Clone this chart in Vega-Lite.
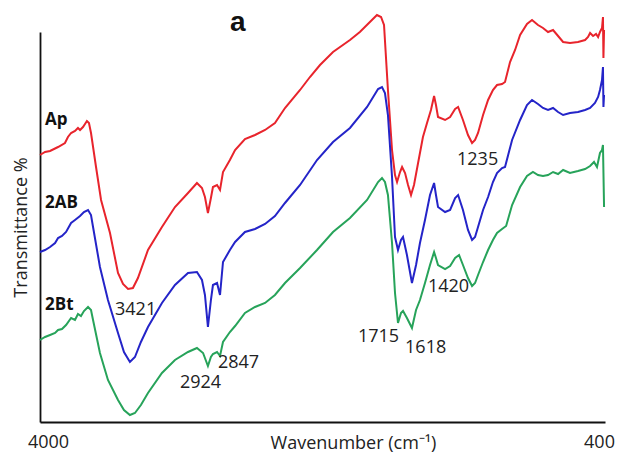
{
  "$schema": "https://vega.github.io/schema/vega-lite/v6.json",
  "width": 565,
  "height": 390,
  "autosize": {"type": "none"},
  "padding": {"left": 40, "top": 32, "right": 14, "bottom": 40},
  "background": "white",
  "config": {"view": {"stroke": null}, "axis": {"grid": false, "ticks": false, "domainColor": "#111", "domainWidth": 1.8, "labelColor": "#222", "titleColor": "#222", "labelFont": "Open Sans", "titleFont": "Open Sans", "titleFontWeight": "normal"}},
  "datasets": {
    "spectra": [
      {"series":"Ap","wn":4000,"T":267},{"series":"Ap","wn":3968,"T":270},{"series":"Ap","wn":3936,"T":271},{"series":"Ap","wn":3885,"T":275},{"series":"Ap","wn":3841,"T":279},{"series":"Ap","wn":3822,"T":285},{"series":"Ap","wn":3802,"T":289},{"series":"Ap","wn":3777,"T":291},{"series":"Ap","wn":3758,"T":294},{"series":"Ap","wn":3745,"T":292},{"series":"Ap","wn":3726,"T":295},{"series":"Ap","wn":3701,"T":301},{"series":"Ap","wn":3688,"T":299},{"series":"Ap","wn":3675,"T":289},{"series":"Ap","wn":3643,"T":255},{"series":"Ap","wn":3611,"T":222},{"series":"Ap","wn":3554,"T":189},{"series":"Ap","wn":3503,"T":149},{"series":"Ap","wn":3471,"T":138},{"series":"Ap","wn":3439,"T":133},{"series":"Ap","wn":3408,"T":134},{"series":"Ap","wn":3376,"T":144},{"series":"Ap","wn":3312,"T":172},{"series":"Ap","wn":3223,"T":195},{"series":"Ap","wn":3140,"T":215},{"series":"Ap","wn":3057,"T":229},{"series":"Ap","wn":3000,"T":239},{"series":"Ap","wn":2968,"T":234},{"series":"Ap","wn":2949,"T":225},{"series":"Ap","wn":2930,"T":209},{"series":"Ap","wn":2911,"T":224},{"series":"Ap","wn":2898,"T":235},{"series":"Ap","wn":2872,"T":237},{"series":"Ap","wn":2853,"T":232},{"series":"Ap","wn":2834,"T":250},{"series":"Ap","wn":2790,"T":262},{"series":"Ap","wn":2757,"T":272},{"series":"Ap","wn":2694,"T":283},{"series":"Ap","wn":2630,"T":287},{"series":"Ap","wn":2566,"T":292},{"series":"Ap","wn":2503,"T":299},{"series":"Ap","wn":2439,"T":314},{"series":"Ap","wn":2343,"T":332},{"series":"Ap","wn":2280,"T":345},{"series":"Ap","wn":2216,"T":357},{"series":"Ap","wn":2133,"T":370},{"series":"Ap","wn":2025,"T":382},{"series":"Ap","wn":1962,"T":390},{"series":"Ap","wn":1898,"T":400},{"series":"Ap","wn":1853,"T":407},{"series":"Ap","wn":1827,"T":405},{"series":"Ap","wn":1808,"T":397},{"series":"Ap","wn":1783,"T":332},{"series":"Ap","wn":1757,"T":272},{"series":"Ap","wn":1738,"T":247},{"series":"Ap","wn":1725,"T":240},{"series":"Ap","wn":1706,"T":250},{"series":"Ap","wn":1693,"T":255},{"series":"Ap","wn":1674,"T":249},{"series":"Ap","wn":1655,"T":237},{"series":"Ap","wn":1636,"T":227},{"series":"Ap","wn":1617,"T":237},{"series":"Ap","wn":1591,"T":259},{"series":"Ap","wn":1560,"T":285},{"series":"Ap","wn":1534,"T":299},{"series":"Ap","wn":1509,"T":312},{"series":"Ap","wn":1489,"T":326},{"series":"Ap","wn":1477,"T":317},{"series":"Ap","wn":1464,"T":305},{"series":"Ap","wn":1419,"T":302},{"series":"Ap","wn":1387,"T":305},{"series":"Ap","wn":1355,"T":313},{"series":"Ap","wn":1336,"T":315},{"series":"Ap","wn":1305,"T":302},{"series":"Ap","wn":1273,"T":287},{"series":"Ap","wn":1247,"T":279},{"series":"Ap","wn":1228,"T":282},{"series":"Ap","wn":1209,"T":289},{"series":"Ap","wn":1177,"T":307},{"series":"Ap","wn":1145,"T":322},{"series":"Ap","wn":1114,"T":332},{"series":"Ap","wn":1088,"T":337},{"series":"Ap","wn":1056,"T":338},{"series":"Ap","wn":1037,"T":340},{"series":"Ap","wn":1005,"T":360},{"series":"Ap","wn":973,"T":372},{"series":"Ap","wn":941,"T":387},{"series":"Ap","wn":897,"T":398},{"series":"Ap","wn":865,"T":402},{"series":"Ap","wn":827,"T":397},{"series":"Ap","wn":795,"T":394},{"series":"Ap","wn":763,"T":390},{"series":"Ap","wn":731,"T":392},{"series":"Ap","wn":699,"T":386},{"series":"Ap","wn":667,"T":380},{"series":"Ap","wn":623,"T":379},{"series":"Ap","wn":572,"T":380},{"series":"Ap","wn":527,"T":382},{"series":"Ap","wn":508,"T":385},{"series":"Ap","wn":495,"T":389},{"series":"Ap","wn":476,"T":386},{"series":"Ap","wn":457,"T":388},{"series":"Ap","wn":444,"T":385},{"series":"Ap","wn":432,"T":390},{"series":"Ap","wn":419,"T":394},{"series":"Ap","wn":413,"T":405},{"series":"Ap","wn":410,"T":364},{"series":"Ap","wn":406,"T":392},

      {"series":"2AB","wn":4000,"T":170},{"series":"2AB","wn":3968,"T":172},{"series":"2AB","wn":3936,"T":175},{"series":"2AB","wn":3904,"T":179},{"series":"2AB","wn":3885,"T":184},{"series":"2AB","wn":3860,"T":186},{"series":"2AB","wn":3834,"T":190},{"series":"2AB","wn":3802,"T":199},{"series":"2AB","wn":3777,"T":202},{"series":"2AB","wn":3745,"T":206},{"series":"2AB","wn":3720,"T":210},{"series":"2AB","wn":3694,"T":212},{"series":"2AB","wn":3675,"T":207},{"series":"2AB","wn":3662,"T":195},{"series":"2AB","wn":3618,"T":155},{"series":"2AB","wn":3567,"T":122},{"series":"2AB","wn":3503,"T":89},{"series":"2AB","wn":3465,"T":70},{"series":"2AB","wn":3427,"T":60},{"series":"2AB","wn":3395,"T":65},{"series":"2AB","wn":3357,"T":80},{"series":"2AB","wn":3312,"T":95},{"series":"2AB","wn":3223,"T":119},{"series":"2AB","wn":3140,"T":137},{"series":"2AB","wn":3057,"T":149},{"series":"2AB","wn":3000,"T":150},{"series":"2AB","wn":2968,"T":142},{"series":"2AB","wn":2949,"T":127},{"series":"2AB","wn":2930,"T":95},{"series":"2AB","wn":2911,"T":122},{"series":"2AB","wn":2898,"T":137},{"series":"2AB","wn":2872,"T":139},{"series":"2AB","wn":2853,"T":127},{"series":"2AB","wn":2834,"T":160},{"series":"2AB","wn":2790,"T":172},{"series":"2AB","wn":2757,"T":180},{"series":"2AB","wn":2694,"T":190},{"series":"2AB","wn":2630,"T":193},{"series":"2AB","wn":2566,"T":198},{"series":"2AB","wn":2503,"T":206},{"series":"2AB","wn":2439,"T":219},{"series":"2AB","wn":2343,"T":237},{"series":"2AB","wn":2235,"T":262},{"series":"2AB","wn":2133,"T":280},{"series":"2AB","wn":2025,"T":294},{"series":"2AB","wn":1916,"T":315},{"series":"2AB","wn":1846,"T":333},{"series":"2AB","wn":1821,"T":335},{"series":"2AB","wn":1802,"T":329},{"series":"2AB","wn":1783,"T":307},{"series":"2AB","wn":1757,"T":245},{"series":"2AB","wn":1738,"T":185},{"series":"2AB","wn":1719,"T":172},{"series":"2AB","wn":1700,"T":182},{"series":"2AB","wn":1687,"T":185},{"series":"2AB","wn":1662,"T":167},{"series":"2AB","wn":1630,"T":139},{"series":"2AB","wn":1604,"T":157},{"series":"2AB","wn":1579,"T":179},{"series":"2AB","wn":1547,"T":202},{"series":"2AB","wn":1515,"T":227},{"series":"2AB","wn":1489,"T":239},{"series":"2AB","wn":1477,"T":227},{"series":"2AB","wn":1464,"T":215},{"series":"2AB","wn":1419,"T":210},{"series":"2AB","wn":1387,"T":212},{"series":"2AB","wn":1355,"T":224},{"series":"2AB","wn":1336,"T":227},{"series":"2AB","wn":1305,"T":212},{"series":"2AB","wn":1273,"T":192},{"series":"2AB","wn":1247,"T":182},{"series":"2AB","wn":1228,"T":185},{"series":"2AB","wn":1209,"T":195},{"series":"2AB","wn":1177,"T":212},{"series":"2AB","wn":1145,"T":225},{"series":"2AB","wn":1114,"T":240},{"series":"2AB","wn":1088,"T":249},{"series":"2AB","wn":1056,"T":254},{"series":"2AB","wn":1037,"T":255},{"series":"2AB","wn":992,"T":282},{"series":"2AB","wn":941,"T":302},{"series":"2AB","wn":897,"T":317},{"series":"2AB","wn":865,"T":322},{"series":"2AB","wn":827,"T":318},{"series":"2AB","wn":795,"T":314},{"series":"2AB","wn":763,"T":312},{"series":"2AB","wn":731,"T":314},{"series":"2AB","wn":699,"T":310},{"series":"2AB","wn":667,"T":307},{"series":"2AB","wn":623,"T":309},{"series":"2AB","wn":572,"T":310},{"series":"2AB","wn":527,"T":312},{"series":"2AB","wn":495,"T":314},{"series":"2AB","wn":464,"T":319},{"series":"2AB","wn":444,"T":325},{"series":"2AB","wn":432,"T":332},{"series":"2AB","wn":419,"T":342},{"series":"2AB","wn":413,"T":355},{"series":"2AB","wn":410,"T":315},{"series":"2AB","wn":406,"T":327},

      {"series":"2Bt","wn":4000,"T":82},{"series":"2Bt","wn":3968,"T":85},{"series":"2Bt","wn":3936,"T":87},{"series":"2Bt","wn":3904,"T":89},{"series":"2Bt","wn":3885,"T":92},{"series":"2Bt","wn":3860,"T":93},{"series":"2Bt","wn":3834,"T":97},{"series":"2Bt","wn":3802,"T":104},{"series":"2Bt","wn":3777,"T":102},{"series":"2Bt","wn":3758,"T":108},{"series":"2Bt","wn":3739,"T":106},{"series":"2Bt","wn":3720,"T":111},{"series":"2Bt","wn":3694,"T":115},{"series":"2Bt","wn":3675,"T":112},{"series":"2Bt","wn":3662,"T":102},{"series":"2Bt","wn":3618,"T":69},{"series":"2Bt","wn":3567,"T":42},{"series":"2Bt","wn":3503,"T":22},{"series":"2Bt","wn":3465,"T":12},{"series":"2Bt","wn":3427,"T":7},{"series":"2Bt","wn":3395,"T":9},{"series":"2Bt","wn":3357,"T":17},{"series":"2Bt","wn":3312,"T":29},{"series":"2Bt","wn":3223,"T":49},{"series":"2Bt","wn":3140,"T":62},{"series":"2Bt","wn":3057,"T":70},{"series":"2Bt","wn":3000,"T":74},{"series":"2Bt","wn":2961,"T":69},{"series":"2Bt","wn":2930,"T":56},{"series":"2Bt","wn":2911,"T":65},{"series":"2Bt","wn":2898,"T":68},{"series":"2Bt","wn":2872,"T":70},{"series":"2Bt","wn":2853,"T":66},{"series":"2Bt","wn":2834,"T":80},{"series":"2Bt","wn":2790,"T":90},{"series":"2Bt","wn":2757,"T":96},{"series":"2Bt","wn":2694,"T":109},{"series":"2Bt","wn":2630,"T":115},{"series":"2Bt","wn":2566,"T":119},{"series":"2Bt","wn":2503,"T":127},{"series":"2Bt","wn":2439,"T":139},{"series":"2Bt","wn":2343,"T":154},{"series":"2Bt","wn":2235,"T":172},{"series":"2Bt","wn":2133,"T":190},{"series":"2Bt","wn":2025,"T":204},{"series":"2Bt","wn":1916,"T":222},{"series":"2Bt","wn":1846,"T":240},{"series":"2Bt","wn":1821,"T":244},{"series":"2Bt","wn":1802,"T":240},{"series":"2Bt","wn":1783,"T":227},{"series":"2Bt","wn":1757,"T":179},{"series":"2Bt","wn":1738,"T":129},{"series":"2Bt","wn":1719,"T":99},{"series":"2Bt","wn":1700,"T":109},{"series":"2Bt","wn":1687,"T":111},{"series":"2Bt","wn":1662,"T":104},{"series":"2Bt","wn":1630,"T":94},{"series":"2Bt","wn":1604,"T":112},{"series":"2Bt","wn":1579,"T":122},{"series":"2Bt","wn":1547,"T":139},{"series":"2Bt","wn":1515,"T":157},{"series":"2Bt","wn":1489,"T":170},{"series":"2Bt","wn":1477,"T":164},{"series":"2Bt","wn":1464,"T":157},{"series":"2Bt","wn":1419,"T":153},{"series":"2Bt","wn":1387,"T":156},{"series":"2Bt","wn":1355,"T":164},{"series":"2Bt","wn":1330,"T":167},{"series":"2Bt","wn":1305,"T":157},{"series":"2Bt","wn":1273,"T":144},{"series":"2Bt","wn":1247,"T":136},{"series":"2Bt","wn":1228,"T":139},{"series":"2Bt","wn":1209,"T":147},{"series":"2Bt","wn":1177,"T":160},{"series":"2Bt","wn":1145,"T":172},{"series":"2Bt","wn":1114,"T":182},{"series":"2Bt","wn":1088,"T":189},{"series":"2Bt","wn":1056,"T":193},{"series":"2Bt","wn":1030,"T":196},{"series":"2Bt","wn":992,"T":217},{"series":"2Bt","wn":941,"T":235},{"series":"2Bt","wn":897,"T":246},{"series":"2Bt","wn":859,"T":250},{"series":"2Bt","wn":827,"T":247},{"series":"2Bt","wn":795,"T":246},{"series":"2Bt","wn":763,"T":247},{"series":"2Bt","wn":731,"T":250},{"series":"2Bt","wn":699,"T":248},{"series":"2Bt","wn":667,"T":252},{"series":"2Bt","wn":623,"T":249},{"series":"2Bt","wn":572,"T":251},{"series":"2Bt","wn":527,"T":253},{"series":"2Bt","wn":495,"T":256},{"series":"2Bt","wn":470,"T":260},{"series":"2Bt","wn":451,"T":255},{"series":"2Bt","wn":432,"T":269},{"series":"2Bt","wn":419,"T":272},{"series":"2Bt","wn":413,"T":277},{"series":"2Bt","wn":406,"T":215}
    ],
    "names": [
      {"label":"Ap","wn":3968,"T":297},
      {"label":"2AB","wn":3968,"T":214},
      {"label":"2Bt","wn":3968,"T":112}
    ],
    "peaks": [
      {"label":"3421","wn":3522,"T":107},
      {"label":"2924","wn":3108,"T":34},
      {"label":"2847","wn":2866,"T":54},
      {"label":"1235","wn":1343,"T":257},
      {"label":"1420","wn":1528,"T":130},
      {"label":"1715","wn":1974,"T":80},
      {"label":"1618","wn":1674,"T":69}
    ],
    "heading": [
      {"label":"a","wn":2789,"T":391}
    ]
  },
  "encoding": {
    "x": {"field": "wn", "type": "quantitative", "scale": {"domain": [400, 4000], "reverse": true, "nice": false, "zero": false},
      "axis": {"title": "Wavenumber (cm⁻¹)", "values": [4000, 400], "format": "d", "labelFontSize": 18, "labelPadding": 11, "labelFlush": false, "labelOverlap": false,
        "labelOffset": {"condition": {"test": "datum.value == 4000", "value": 8}, "value": -6},
        "titleFontSize": 18, "titleX": 313, "titleY": 26, "titleBaseline": "alphabetic"}},
    "y": {"field": "T", "type": "quantitative", "scale": {"domain": [0, 390], "nice": false, "zero": false},
      "axis": {"title": "Transmittance %", "labels": false, "titleFontSize": 18, "titlePadding": 10}}
  },
  "layer": [
    {
      "data": {"name": "spectra"},
      "mark": {"type": "line", "strokeWidth": 2, "interpolate": "linear"},
      "encoding": {
        "color": {"field": "series", "type": "nominal", "scale": {"domain": ["Ap", "2AB", "2Bt"], "range": ["#e8242c", "#2424c8", "#27a35a"]}, "legend": null}
      }
    },
    {
      "data": {"name": "names"},
      "mark": {"type": "text", "align": "left", "baseline": "alphabetic", "font": "Open Sans", "fontWeight": "bold", "fontSize": 17, "color": "#111"},
      "encoding": {"text": {"field": "label"}}
    },
    {
      "data": {"name": "peaks"},
      "mark": {"type": "text", "align": "left", "baseline": "alphabetic", "font": "Open Sans", "fontSize": 18, "color": "#222"},
      "encoding": {"text": {"field": "label"}}
    },
    {
      "data": {"name": "heading"},
      "mark": {"type": "text", "align": "left", "baseline": "alphabetic", "font": "Liberation Sans", "fontWeight": "bold", "fontSize": 28, "color": "#111"},
      "encoding": {"text": {"field": "label"}}
    }
  ]
}
